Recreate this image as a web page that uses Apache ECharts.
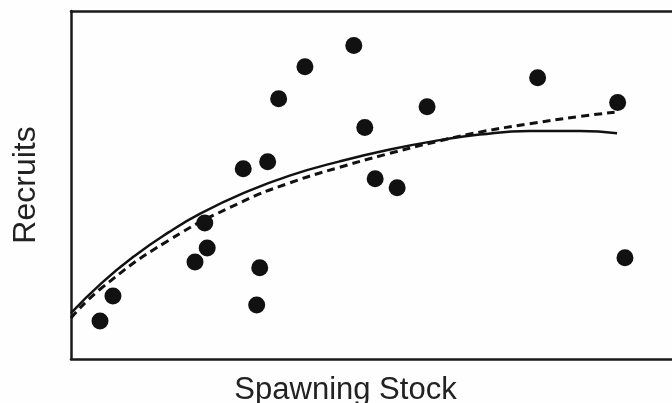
<!DOCTYPE html>
<html>
<head>
<meta charset="utf-8">
<script src="https://cdn.jsdelivr.net/npm/echarts@6/dist/echarts.min.js"></script>
<style>
html,body{margin:0;padding:0;background:#fefefe;}
#chart{width:672px;height:403px;}
</style>
</head>
<body>
<div id="chart"></div>
<script>
// Observed points (arbitrary units)
const stockX   = [4.75, 6.87, 20.3, 21.9, 22.3, 28.2, 30.4, 30.9, 32.2, 34.0, 38.3, 46.3, 48.1, 49.8, 53.4, 58.3, 76.4, 89.5, 90.7];
const recruitsY = [10.9, 18.1, 27.9, 39.1, 31.9, 54.7, 15.5, 26.2, 56.7, 74.8, 84.0, 90.1, 66.5, 51.8, 49.2, 72.5, 80.8, 73.7, 29.1];

// Solid fitted curve
const solidCurveX = [0, 5, 10.4, 15.9, 21.3, 28.4, 35.8, 44.0, 52.2, 60.4, 66.9, 75.1, 83.3, 89.4];
const solidCurveY = [13.2, 21.8, 29.6, 36.3, 41.9, 47.8, 52.7, 56.8, 60.2, 62.9, 64.5, 65.5, 65.5, 64.9];

// Dashed fitted curve
const dashedCurveX = [0, 5, 15.9, 27.8, 35.8, 44.0, 52.2, 60.4, 66.9, 75.1, 83.3, 89.0];
const dashedCurveY = [11.8, 20.4, 34.0, 45.0, 50.6, 55.1, 59.1, 62.7, 65.2, 67.6, 69.7, 70.9];

// Axis ranges (the visible frame is cut at the right edge)
const xMin = 0, xMax = 98.4;
const yMin = 0, yMax = 100;

const xTitle = 'Spawning Stock';
const yTitle = 'Recruits';

const zip = (a, b) => a.map((v, i) => [v, b[i]]);

const frameLine = {show: true, lineStyle: {color: '#1a1a1a', width: 2.5}};
const hidden = {axisTick: {show: false}, axisLabel: {show: false}, splitLine: {show: false}};

const chart = echarts.init(document.getElementById('chart'), null, {renderer: 'canvas'});
chart.setOption({
  backgroundColor: '#fefefe',
  animation: false,
  grid: {left: 71, top: 11, bottom: 44, right: 0, show: false, containLabel: false, outerBoundsMode: 'none'},
  xAxis: [
    Object.assign({
      type: 'value', min: xMin, max: xMax, position: 'bottom',
      axisLine: frameLine,
      name: xTitle, nameLocation: 'middle', nameGap: 16,
      nameTextStyle: {fontFamily: 'Liberation Sans, Arial, sans-serif', fontSize: 31, color: '#222', padding: [0, 52, 0, 0]}
    }, hidden),
    Object.assign({
      type: 'value', min: xMin, max: xMax, position: 'top',
      axisLine: frameLine
    }, hidden)
  ],
  yAxis: Object.assign({
    type: 'value', min: yMin, max: yMax,
    axisLine: frameLine,
    name: yTitle, nameLocation: 'middle', nameGap: 29,
    nameTextStyle: {fontFamily: 'Liberation Sans, Arial, sans-serif', fontSize: 32, color: '#222'}
  }, hidden),
  series: [
    {
      type: 'line', data: zip(solidCurveX, solidCurveY), smooth: 0.5, symbol: 'none',
      lineStyle: {color: '#111', width: 2.5}, z: 2
    },
    {
      type: 'line', data: zip(dashedCurveX, dashedCurveY), smooth: 0.5, symbol: 'none',
      lineStyle: {color: '#111', width: 3, type: [8, 5]}, z: 2
    },
    {
      type: 'scatter', data: zip(stockX, recruitsY), symbol: 'circle', symbolSize: 17,
      itemStyle: {color: '#111', opacity: 1}, z: 3
    }
  ]
});
</script>
</body>
</html>
